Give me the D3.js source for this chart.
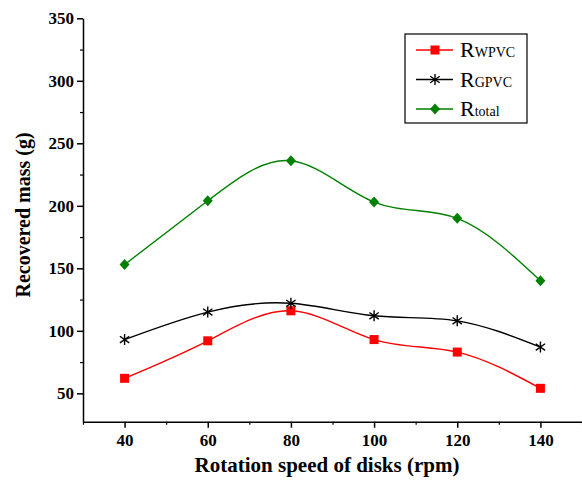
<!DOCTYPE html>
<html>
<head>
<meta charset="utf-8">
<script src="https://cdn.jsdelivr.net/npm/d3@7"></script>
<style>
  body { margin: 0; background: #fff; }
</style>
</head>
<body>
<svg id="chart" width="582" height="483" font-family="Liberation Serif"></svg>
<script>
// data
var speeds = [40, 60, 80, 100, 120, 140]
var wpvc = [62, 92, 116, 93, 83, 54]
var gpvc = [93, 115, 122, 112, 108, 87]
var total = [153, 204, 236, 203, 190, 140]
var xTicks = [40, 60, 80, 100, 120, 140]
var yTicks = [50, 100, 150, 200, 250, 300, 350]

var FONT = "Liberation Serif"
var svg = d3.select("#chart")

var x = d3.scaleLinear().domain([30, 150]).range([83, 582])
var y = d3.scaleLinear().domain([27.3, 350]).range([421.7, 18.3])

// y axis
var yAxis = svg.append("g")
  .attr("transform", "translate(83,0)")
  .call(d3.axisLeft(y).tickValues(yTicks).tickSize(6).tickSizeOuter(0).tickPadding(3))
yAxis.attr("font-family", FONT)
yAxis.select(".domain").attr("stroke-width", 1.5)
yAxis.selectAll(".tick line").attr("stroke-width", 1.5)
yAxis.selectAll(".tick text")
  .attr("font-family", FONT).attr("font-size", 17).attr("font-weight", "bold").attr("fill", "#000")
svg.append("g")
  .attr("transform", "translate(83,0)")
  .call(d3.axisLeft(y).tickValues(d3.range(75, 350, 50)).tickSize(3).tickFormat(""))
  .call(function(g){ g.select(".domain").remove() })
  .selectAll("line").attr("stroke-width", 1.2)

// x axis
var xAxis = svg.append("g")
  .attr("transform", "translate(0,421.7)")
  .call(d3.axisBottom(x).tickValues(xTicks).tickSize(6).tickSizeOuter(0).tickPadding(6))
xAxis.attr("font-family", FONT)
xAxis.select(".domain").attr("stroke-width", 1.5)
xAxis.selectAll(".tick line").attr("stroke-width", 1.5)
xAxis.selectAll(".tick text")
  .attr("font-family", FONT).attr("font-size", 17).attr("font-weight", "bold").attr("fill", "#000")
svg.append("g")
  .attr("transform", "translate(0,421.7)")
  .call(d3.axisBottom(x).tickValues([30, 50, 70, 90, 110, 130, 150]).tickSize(3).tickFormat(""))
  .call(function(g){ g.select(".domain").remove() })
  .selectAll("line").attr("stroke-width", 1.2)

// axis titles
svg.append("text")
  .attr("x", 327).attr("y", 472)
  .attr("text-anchor", "middle")
  .attr("font-family", FONT).attr("font-size", 21).attr("font-weight", "bold")
  .text("Rotation speed of disks (rpm)")
svg.append("text")
  .attr("transform", "translate(30,215) rotate(-90)")
  .attr("text-anchor", "middle")
  .attr("font-family", FONT).attr("font-size", 20).attr("font-weight", "bold")
  .text("Recovered mass (g)")

// series
var series = [
  {name: "WPVC", values: wpvc, color: "#ff0000", marker: "square"},
  {name: "GPVC", values: gpvc, color: "#000000", marker: "star"},
  {name: "total", values: total, color: "#008000", marker: "diamond"}
]

var line = d3.line()
  .x(function(d){ return x(d[0]) })
  .y(function(d){ return y(d[1]) })
  .curve(d3.curveNatural)

function drawMarker(g, type, color) {
  if (type == "square") {
    g.append("rect").attr("x", -4.5).attr("y", -4.5).attr("width", 9).attr("height", 9).attr("fill", color)
  } else if (type == "diamond") {
    g.append("path").attr("d", "M0,-5.5L5,0L0,5.5L-5,0Z").attr("fill", color)
  } else {
    var r = 5.5
    g.append("path")
      .attr("d", "M0," + (-r) + "V" + r + "M" + (-r*0.85) + "," + (-r*0.6) + "L" + (r*0.85) + "," + (r*0.6) +
        "M" + (-r*0.85) + "," + (r*0.6) + "L" + (r*0.85) + "," + (-r*0.6))
      .attr("stroke", color).attr("stroke-width", 1.4).attr("fill", "none")
  }
}

series.forEach(function(s){
  var pts = speeds.map(function(v, i){ return [v, s.values[i]] })
  svg.append("path")
    .datum(pts)
    .attr("d", line)
    .attr("fill", "none")
    .attr("stroke", s.color)
    .attr("stroke-width", 1.4)
  svg.selectAll(null)
    .data(pts)
    .enter()
    .append("g")
      .attr("transform", function(d){ return "translate(" + x(d[0]) + "," + y(d[1]) + ")" })
      .each(function(){ drawMarker(d3.select(this), s.marker, s.color) })
})

// legend
var legend = svg.append("g")
legend.append("rect")
  .attr("x", 405).attr("y", 34).attr("width", 122).attr("height", 89)
  .attr("fill", "#fff").attr("stroke", "#000").attr("stroke-width", 1.2)
series.forEach(function(s, i){
  var ly = 50 + i * 29.5
  legend.append("line")
    .attr("x1", 416).attr("x2", 453).attr("y1", ly).attr("y2", ly)
    .attr("stroke", s.color).attr("stroke-width", 1.5)
  var mg = legend.append("g").attr("transform", "translate(435," + ly + ")")
  drawMarker(mg, s.marker, s.color)
  var t = legend.append("text")
    .attr("x", 460).attr("y", ly + 7)
    .attr("font-family", FONT).attr("font-size", 22)
  t.append("tspan").text("R")
  t.append("tspan").attr("font-size", 14).text(s.name)
})
</script>
</body>
</html>
